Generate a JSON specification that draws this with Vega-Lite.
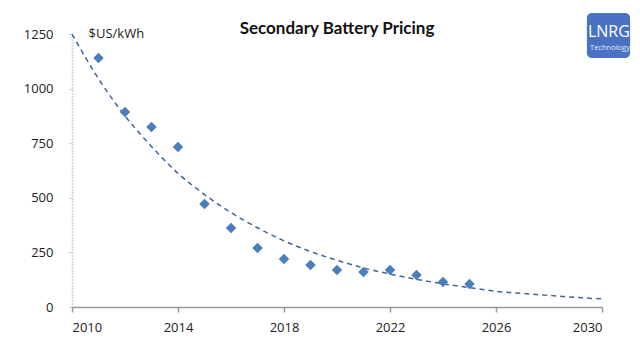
{
  "$schema": "https://vega.github.io/schema/vega-lite/v6.json",
  "width": 530,
  "height": 273,
  "autosize": {"type": "none"},
  "padding": {"left": 72, "top": 34, "right": 38, "bottom": 55},
  "background": "white",
  "config": {
    "view": {"stroke": null},
    "font": "Open Sans",
    "axisX": {"grid": false, "domainColor": "#999999", "domainWidth": 1.5, "tickColor": "#999999", "tickWidth": 1.5, "tickSize": 5,
      "labelFontSize": 13, "labelColor": "#222222", "labelPadding": 9, "labelFont": "Open Sans"},
    "axisY": {"grid": false, "domainColor": "#aaaaaa", "domainDash": [1, 2], "domainWidth": 1.5,
      "tickColor": "#aaaaaa", "tickSize": 3, "tickDash": [1, 1],
      "labelFontSize": 13, "labelColor": "#222222", "labelPadding": 16, "labelFont": "Open Sans",
      "titleAngle": 0, "titleAlign": "left", "titleBaseline": "alphabetic",
      "titleX": 16, "titleY": 3, "titleFontSize": 13, "titleFontWeight": "normal", "titleColor": "#222222", "titleFont": "Open Sans"}
  },
  "title": {"text": "Secondary Battery Pricing", "fontSize": 17, "font": "Lato", "fontWeight": "bold", "color": "#111111", "offset": -25, "anchor": "middle"},
  "datasets": {
    "points": [
      {"year": 2011, "price": 1140},
      {"year": 2012, "price": 893},
      {"year": 2013, "price": 824},
      {"year": 2014, "price": 733},
      {"year": 2015, "price": 472},
      {"year": 2016, "price": 362},
      {"year": 2017, "price": 270},
      {"year": 2018, "price": 220},
      {"year": 2019, "price": 192},
      {"year": 2020, "price": 169},
      {"year": 2021, "price": 160},
      {"year": 2022, "price": 169},
      {"year": 2023, "price": 147},
      {"year": 2024, "price": 114},
      {"year": 2025, "price": 105}
    ],
    "trend": [
      {"year": 2010, "price": 1250},
      {"year": 2011, "price": 1045},
      {"year": 2012, "price": 875},
      {"year": 2013, "price": 735},
      {"year": 2014, "price": 612},
      {"year": 2015, "price": 515},
      {"year": 2016, "price": 432},
      {"year": 2017, "price": 363},
      {"year": 2018, "price": 303},
      {"year": 2019, "price": 254},
      {"year": 2020, "price": 214},
      {"year": 2021, "price": 179},
      {"year": 2022, "price": 151},
      {"year": 2023, "price": 127},
      {"year": 2024, "price": 106},
      {"year": 2025, "price": 89},
      {"year": 2026, "price": 72},
      {"year": 2027, "price": 62},
      {"year": 2028, "price": 53},
      {"year": 2029, "price": 44},
      {"year": 2030, "price": 37}
    ],
    "logo": [{"name": "LNRG", "sub": "Technology"}]
  },
  "layer": [
    {
      "data": {"name": "trend"},
      "mark": {"type": "line", "strokeDash": [5, 4], "strokeWidth": 1.5, "color": "#3d679c", "interpolate": "monotone"},
      "encoding": {
        "x": {"field": "year", "type": "quantitative", "title": null,
          "scale": {"domain": [2010, 2030], "nice": false, "zero": false},
          "axis": {"values": [2010, 2014, 2018, 2022, 2026, 2030], "format": "d"}},
        "y": {"field": "price", "type": "quantitative", "title": "$US/kWh",
          "scale": {"domain": [0, 1250], "nice": false},
          "axis": {"values": [0, 250, 500, 750, 1000, 1250], "format": "d"}}
      }
    },
    {
      "data": {"name": "points"},
      "mark": {"type": "point", "shape": "diamond", "filled": true, "size": 110, "color": "#4a7ebb", "opacity": 1},
      "encoding": {
        "x": {"field": "year", "type": "quantitative", "title": null},
        "y": {"field": "price", "type": "quantitative", "title": "$US/kWh"}
      }
    },
    {
      "data": {"name": "logo"},
      "mark": {"type": "rect", "color": "#4a72c4", "cornerRadius": 5, "clip": false},
      "encoding": {
        "x": {"datum": 2029.43, "type": "quantitative", "title": null},
        "x2": {"datum": 2031.06},
        "y": {"datum": 1346, "type": "quantitative", "title": "$US/kWh"},
        "y2": {"datum": 1140}
      }
    },
    {
      "data": {"name": "logo"},
      "mark": {"type": "text", "color": "white", "fontSize": 16, "font": "Open Sans", "align": "center", "baseline": "alphabetic", "clip": false},
      "encoding": {
        "text": {"field": "name"},
        "x": {"datum": 2030.26, "type": "quantitative", "title": null},
        "y": {"datum": 1238, "type": "quantitative", "title": "$US/kWh"}
      }
    },
    {
      "data": {"name": "logo"},
      "mark": {"type": "text", "color": "#e3eaf8", "fontSize": 7.5, "font": "Open Sans", "align": "center", "baseline": "alphabetic", "clip": false},
      "encoding": {
        "text": {"field": "sub"},
        "x": {"datum": 2030.3, "type": "quantitative", "title": null},
        "y": {"datum": 1179, "type": "quantitative", "title": "$US/kWh"}
      }
    }
  ]
}
